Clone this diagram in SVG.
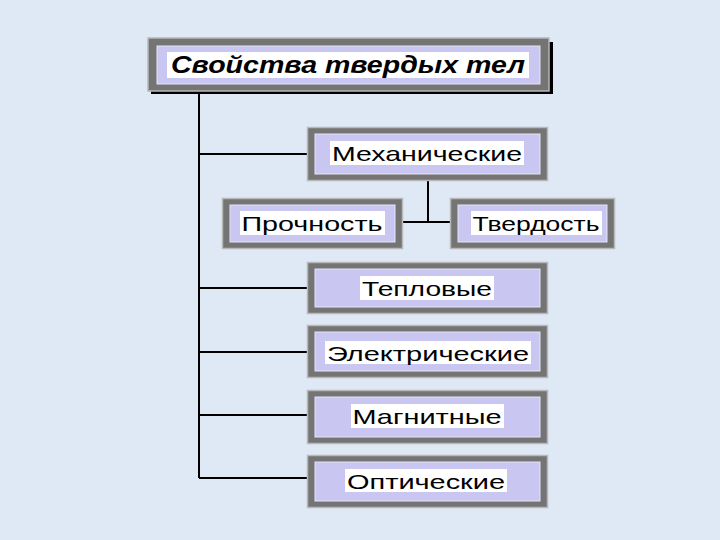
<svg xmlns="http://www.w3.org/2000/svg" width="720" height="540" viewBox="0 0 720 540">
<style>
.frame{fill:#747474;stroke:#b8b8b8;stroke-width:1.5}
.inner{fill:#c9c7f1;stroke:#e4e4f4;stroke-width:1}
.tbg{fill:#ffffff}
.lbl{font-family:"Liberation Sans",Arial,sans-serif;font-size:21px;fill:#000;text-anchor:middle}
.ttl{font-family:"Liberation Sans",Arial,sans-serif;font-size:23px;font-weight:bold;font-style:italic;fill:#000;text-anchor:middle}
.ln{stroke:#000;stroke-width:2;fill:none}
</style>
<rect width="720" height="540" fill="#dfe9f6"/>
<g id="connectors">
<path class="ln" d="M199 92 V478"/>
<path class="ln" d="M199 154 H307"/>
<path class="ln" d="M199 288 H307"/>
<path class="ln" d="M199 352 H307"/>
<path class="ln" d="M199 415 H307"/>
<path class="ln" d="M199 478 H307"/>
<path class="ln" d="M428 180 V222"/>
<path class="ln" d="M402 222 H450"/>
</g>
<g id="title">
<rect x="151" y="42" width="402" height="52" fill="#000"/>
<rect class="frame" x="148" y="38" width="401" height="53" fill="#7c7c7c"/>
<rect class="inner" x="157" y="46" width="383" height="38"/>
<rect class="tbg" x="167" y="52" width="362" height="26"/>
<text class="ttl" x="348" y="73" textLength="354" lengthAdjust="spacingAndGlyphs">Свойства твердых тел</text>
</g>
<g id="mech">
<rect class="frame" x="307.5" y="127.5" width="240" height="53"/>
<rect class="inner" x="315" y="134" width="225" height="40"/>
<rect class="tbg" x="330" y="141" width="194" height="24"/>
<text class="lbl" x="427" y="160.5" textLength="190" lengthAdjust="spacingAndGlyphs">Механические</text>
</g>
<g id="prochnost">
<rect class="frame" x="222.5" y="198.5" width="180" height="50"/>
<rect class="inner" x="230" y="205" width="165" height="37"/>
<rect class="tbg" x="240" y="211" width="145" height="24"/>
<text class="lbl" x="312" y="230.5" textLength="141" lengthAdjust="spacingAndGlyphs">Прочность</text>
</g>
<g id="tverdost">
<rect class="frame" x="450.5" y="198.5" width="164" height="50"/>
<rect class="inner" x="458" y="205" width="149" height="37"/>
<rect class="tbg" x="471" y="211" width="131" height="24"/>
<text class="lbl" x="536" y="230.5" textLength="127" lengthAdjust="spacingAndGlyphs">Твердость</text>
</g>
<g id="teplovye">
<rect class="frame" x="307.5" y="262.5" width="240" height="51"/>
<rect class="inner" x="315" y="269" width="225" height="38"/>
<rect class="tbg" x="360" y="276" width="134" height="24"/>
<text class="lbl" x="427" y="295.5" textLength="130" lengthAdjust="spacingAndGlyphs">Тепловые</text>
</g>
<g id="elektricheskie">
<rect class="frame" x="307.5" y="325.5" width="240" height="52"/>
<rect class="inner" x="315" y="332" width="225" height="39"/>
<rect class="tbg" x="325" y="341" width="206" height="23"/>
<text class="lbl" x="428" y="360.5" textLength="202" lengthAdjust="spacingAndGlyphs">Электрические</text>
</g>
<g id="magnitnye">
<rect class="frame" x="307.5" y="390.5" width="240" height="53"/>
<rect class="inner" x="315" y="397" width="225" height="40"/>
<rect class="tbg" x="351" y="404" width="153" height="24"/>
<text class="lbl" x="427" y="423.5" textLength="149" lengthAdjust="spacingAndGlyphs">Магнитные</text>
</g>
<g id="opticheskie">
<rect class="frame" x="307.5" y="455.5" width="240" height="52"/>
<rect class="inner" x="315" y="462" width="225" height="39"/>
<rect class="tbg" x="345" y="469" width="162" height="23"/>
<text class="lbl" x="426" y="488.5" textLength="158" lengthAdjust="spacingAndGlyphs">Оптические</text>
</g>
</svg>
